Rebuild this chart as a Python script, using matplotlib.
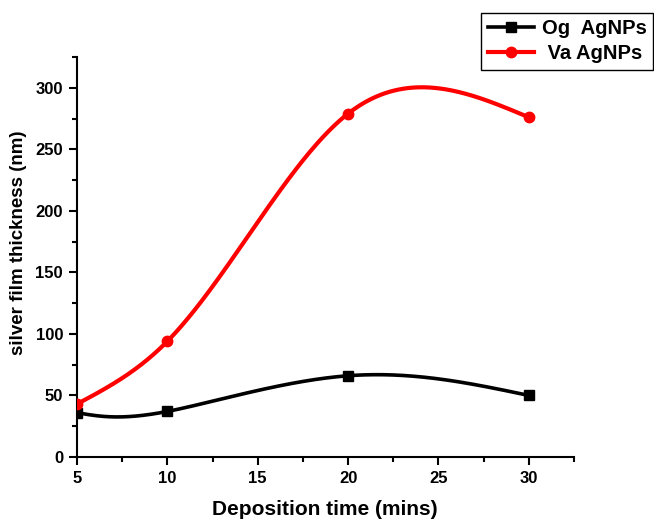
import numpy as np
import matplotlib
matplotlib.use("Agg")
import matplotlib.pyplot as plt
from matplotlib.ticker import MultipleLocator

plt.rcParams['font.family'] = ['Liberation Sans', 'DejaVu Sans']
plt.rcParams['font.weight'] = 'bold'

time = [5, 10, 20, 30]
og_thick = [36, 37, 66, 50]
va_thick = [43, 94, 279, 276]


def natural_spline(t, y, ts):
    # natural cubic spline of y(t), evaluated at ts
    t = np.asarray(t, float)
    y = np.asarray(y, float)
    k = len(t)
    h = np.diff(t)
    A = np.zeros((k, k))
    b = np.zeros(k)
    A[0, 0] = 1
    A[-1, -1] = 1
    for i in range(1, k - 1):
        A[i, i - 1] = h[i - 1]
        A[i, i] = 2 * (h[i - 1] + h[i])
        A[i, i + 1] = h[i]
        b[i] = 6 * ((y[i + 1] - y[i]) / h[i] - (y[i] - y[i - 1]) / h[i - 1])
    M = np.linalg.solve(A, b)
    out = np.empty_like(ts)
    for j, tv in enumerate(ts):
        i = min(np.searchsorted(t, tv, side='right') - 1, k - 2)
        t1 = t[i + 1] - tv
        t0 = tv - t[i]
        out[j] = (M[i] * t1 ** 3 + M[i + 1] * t0 ** 3) / (6 * h[i]) \
            + (y[i] / h[i] - M[i] * h[i] / 6) * t1 \
            + (y[i + 1] / h[i] - M[i + 1] * h[i] / 6) * t0
    return out


def spline_x(x, y, n=400):
    xs = np.linspace(x[0], x[-1], n)
    return xs, natural_spline(x, y, xs)


def spline_param(x, y, n=400):
    # parametric spline, point index as parameter
    idx = np.arange(len(x), dtype=float)
    ts = np.linspace(0, len(x) - 1, n)
    return natural_spline(idx, x, ts), natural_spline(idx, y, ts)


fig = plt.figure(figsize=(6.54, 5.2), dpi=100)
ax = fig.add_axes([0.1177, 0.1212, 0.76, 0.7692])

xs, ys = spline_param(time, og_thick)
ax.plot(xs, ys, color='black', lw=2.6, zorder=2)
ax.plot(time, og_thick, 's', color='black', ms=7, zorder=3)
xs, ys = spline_x(time, va_thick)
ax.plot(xs, ys, color='red', lw=3, zorder=2)
ax.plot(time, va_thick, 'o', color='red', ms=7.5, zorder=3)

# legend handles
h1, = ax.plot([], [], '-s', color='black', lw=2.6, ms=7)
h2, = ax.plot([], [], '-o', color='red', lw=3, ms=7.5)
leg = fig.legend([h1, h2], ['Og  AgNPs', ' Va AgNPs'], loc='upper right',
                 bbox_to_anchor=(0.999, 0.975), borderaxespad=0,
                 fancybox=False, framealpha=1, edgecolor='black',
                 fontsize=14.5, handlelength=2.3, handletextpad=0.4,
                 borderpad=0.32, labelspacing=0.3)
leg.get_frame().set_linewidth(1)

ax.set_xlim(5, 32.5)
ax.set_ylim(0, 325)
ax.xaxis.set_major_locator(MultipleLocator(5))
ax.xaxis.set_minor_locator(MultipleLocator(2.5))
ax.yaxis.set_major_locator(MultipleLocator(50))
ax.yaxis.set_minor_locator(MultipleLocator(25))
ax.spines['top'].set_visible(False)
ax.spines['right'].set_visible(False)
ax.spines['left'].set_linewidth(1.5)
ax.spines['bottom'].set_linewidth(1.5)
ax.tick_params(which='major', direction='out', length=6, width=1.5,
               labelsize=12, pad=4)
ax.tick_params(which='minor', direction='out', length=3.5, width=1.5)

ax.set_xlabel('Deposition time (mins)', fontsize=15, fontweight='bold')
ax.set_ylabel('silver film thickness (nm)', fontsize=13.5, fontweight='bold')
ax.xaxis.set_label_coords(0.499, -0.108)
ax.yaxis.set_label_coords(-0.1, 0.535)

fig.savefig('out.png', dpi=100)
